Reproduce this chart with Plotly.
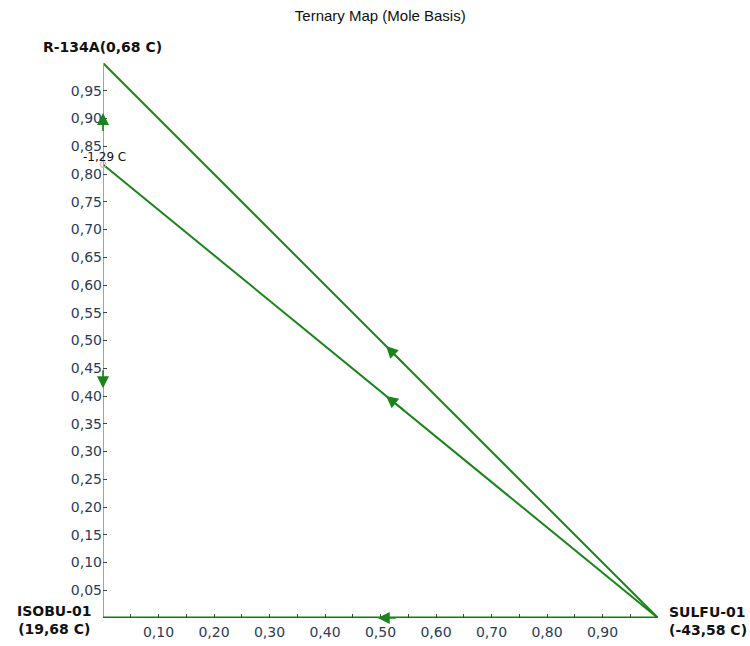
import plotly.graph_objects as go

# Components and pure-component boiling points (deg C)
components = ["ISOBU-01", "R-134A", "SULFU-01"]
boiling_points = [19.68, 0.68, -43.58]

# Azeotrope: R-134A / ISOBU-01 binary edge
azeo_r134a = 0.817
azeo_temp = -1.29

# Triangle edge (SULFU-01 -> R-134A) and distillation boundary
edge_x = [0.0, 1.0]
edge_y = [1.0, 0.0]
boundary_x = [1.0, 0.0]
boundary_y = [0.0, azeo_r134a]

# Direction arrows along curves: tip (x, y) and tail (x, y)
arrow_tip_x = [0.51, 0.51, 0.495, 0.0, 0.0]
arrow_tip_y = [0.49, 0.400, 0.0, 0.91, 0.414]
arrow_tail_x = [0.545, 0.545, 0.53, 0.0, 0.0]
arrow_tail_y = [0.455, 0.3718, 0.0, 0.875, 0.449]

# Axis ticks
y_tickvals = [round(0.05 * i, 2) for i in range(1, 20)]
x_tickvals = [round(0.05 * i, 2) for i in range(1, 20)]
x_ticktext = [("%.2f" % v).replace(".", ",") if i % 2 == 1 else "" for i, v in enumerate(x_tickvals)]
y_ticktext = [("%.2f" % v).replace(".", ",") for v in y_tickvals]

GREEN = "#1a841a"
TICK_COLOR = "#2c3c58"

fig = go.Figure()

fig.add_trace(go.Scatter(x=edge_x, y=edge_y, mode="lines",
                         line=dict(color=GREEN, width=2), cliponaxis=False,
                         hoverinfo="skip"))
fig.add_trace(go.Scatter(x=boundary_x, y=boundary_y, mode="lines",
                         line=dict(color=GREEN, width=2), cliponaxis=False,
                         hoverinfo="skip"))
# Binary edges along the axes
fig.add_trace(go.Scatter(x=[0, 0], y=[0, 1], mode="lines",
                         line=dict(color="#74c274", width=2), cliponaxis=False,
                         hoverinfo="skip"))
fig.add_trace(go.Scatter(x=[0, 1], y=[0, 0], mode="lines",
                         line=dict(color="#0a800a", width=3), cliponaxis=False,
                         hoverinfo="skip"))
# Azeotrope point
fig.add_trace(go.Scatter(x=[0.0], y=[azeo_r134a], mode="markers",
                         marker=dict(color="rgba(0,0,0,0)", size=6,
                                     line=dict(color="#f0a0b8", width=1)),
                         cliponaxis=False, hoverinfo="skip"))

for tx, ty, ax, ay in zip(arrow_tip_x, arrow_tip_y, arrow_tail_x, arrow_tail_y):
    fig.add_annotation(x=tx, y=ty, ax=ax, ay=ay, xref="x", yref="y",
                       axref="x", ayref="y", text="", showarrow=True,
                       arrowhead=2, arrowsize=1.5, arrowwidth=1.6,
                       arrowcolor=GREEN)

def fmt_temp(t):
    return ("%.2f C" % t).replace(".", ",")

label_font = dict(family="DejaVu Sans", size=14, color="#111111")

fig.add_annotation(x=0, y=1, xref="x", yref="y", showarrow=False,
                   text="<b>%s(%s)</b>" % (components[1], fmt_temp(boiling_points[1])),
                   xanchor="center", yanchor="middle", yshift=16, xshift=-1,
                   font=label_font)
fig.add_annotation(x=0, y=0, xref="x", yref="y", showarrow=False,
                   text="<b>%s<br>(%s)</b>" % (components[0], fmt_temp(boiling_points[0])),
                   xanchor="right", yanchor="middle", xshift=-9, yshift=-2,
                   font=label_font)
fig.add_annotation(x=1, y=0, xref="x", yref="y", showarrow=False,
                   text="<b>%s<br>(%s)</b>" % (components[2], fmt_temp(boiling_points[2])),
                   xanchor="left", align="left", yanchor="middle", xshift=9, yshift=-3,
                   font=label_font)
fig.add_annotation(x=0, y=azeo_r134a, xref="x", yref="y", showarrow=False,
                   text=fmt_temp(azeo_temp), xanchor="center", yanchor="middle",
                   yshift=8, xshift=1,
                   font=dict(family="DejaVu Sans", size=12, color="#111111"))

fig.update_layout(
    width=750, height=646,
    margin=dict(l=103, r=92, t=63, b=28),
    paper_bgcolor="white", plot_bgcolor="white",
    showlegend=False,
    title=dict(text="Ternary Map (Mole Basis)", x=0.507, xanchor="center",
               y=0.975, yanchor="middle",
               font=dict(family="Liberation Sans", size=15, color="#111111")),
)
fig.update_xaxes(range=[0, 1], showgrid=False, zeroline=False, showline=False,
                 tickmode="array", tickvals=x_tickvals, ticktext=x_ticktext,
                 ticks="inside", ticklen=4, tickcolor="#444444",
                 ticklabelstandoff=4,
                 tickfont=dict(family="DejaVu Sans", size=14, color=TICK_COLOR),
                 automargin=False, fixedrange=True)
fig.update_yaxes(range=[0, 1], showgrid=False, zeroline=False, showline=False,
                 tickmode="array", tickvals=y_tickvals, ticktext=y_ticktext,
                 ticks="inside", ticklen=4, tickcolor="#444444",
                 tickfont=dict(family="DejaVu Sans", size=14, color=TICK_COLOR),
                 automargin=False, fixedrange=True)

fig.write_html("out.html")
